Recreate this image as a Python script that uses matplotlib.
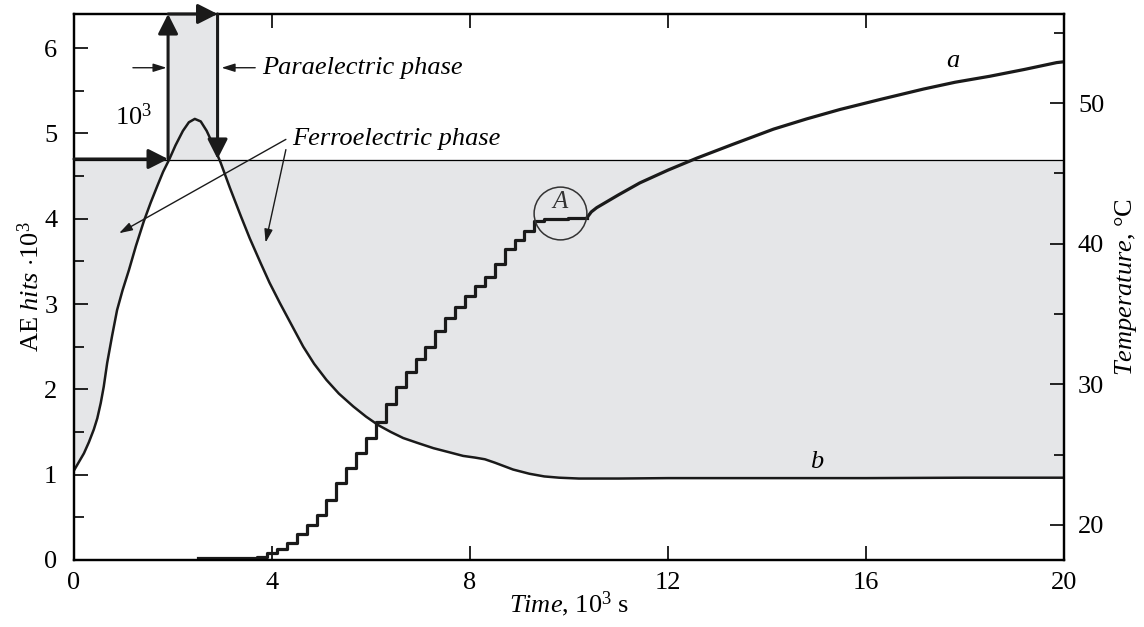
import matplotlib
matplotlib.use("Agg")
import matplotlib.pyplot as plt
from matplotlib.ticker import MultipleLocator

plt.rcParams['font.family'] = ['Liberation Serif', 'DejaVu Serif']
plt.rcParams['mathtext.fontset'] = 'custom'
plt.rcParams['mathtext.rm'] = 'Liberation Serif'
plt.rcParams['mathtext.it'] = 'Liberation Serif:italic'

# curve a: AE hits (10^3), staircase part and smooth part
a_step_t = [2.5, 3.6, 3.8, 4.0, 4.2, 4.4, 4.6, 4.8, 5.0, 5.2, 5.4, 5.6, 5.8, 6.0, 6.2,
            6.4, 6.6, 6.8, 7.0, 7.2, 7.4, 7.6, 7.8, 8.0, 8.2, 8.4, 8.6, 8.8, 9.0, 9.2,
            9.4, 9.6, 10.36]
a_step_v = [0.02, 0.02, 0.04, 0.08, 0.13, 0.20, 0.30, 0.41, 0.53, 0.70, 0.90, 1.08, 1.25,
            1.43, 1.62, 1.83, 2.03, 2.20, 2.35, 2.50, 2.68, 2.84, 2.97, 3.09, 3.21, 3.32,
            3.47, 3.64, 3.75, 3.86, 3.97, 4.00, 4.01]
a_line_t = [10.36, 10.45, 10.56, 11.0, 11.43, 12.0, 12.58, 13.3, 14.13, 14.8, 15.47,
            16.3, 17.16, 17.8, 18.5, 19.2, 19.85, 20.0]
a_line_v = [4.01, 4.08, 4.13, 4.28, 4.42, 4.57, 4.71, 4.87, 5.05, 5.17, 5.28, 5.40,
            5.52, 5.60, 5.67, 5.75, 5.83, 5.84]

# curve b: temperature, C
b_t = [0.0, 0.2, 0.3, 0.4, 0.47, 0.54, 0.6, 0.67, 0.77, 0.87, 0.98, 1.11, 1.25, 1.41,
       1.55, 1.68, 1.8, 1.92, 2.05, 2.2, 2.32, 2.44, 2.56, 2.68, 2.8, 2.96, 3.15, 3.37,
       3.55, 3.77, 3.95, 4.16, 4.4, 4.63, 4.85, 5.1, 5.35, 5.64, 5.9, 6.15, 6.4, 6.65,
       6.95, 7.26, 7.6, 7.86, 8.1, 8.3, 8.5, 8.87, 9.2, 9.5, 9.8, 10.2, 11.0, 12.0,
       14.0, 16.0, 18.0, 20.0]
b_T = [23.88, 25.09, 25.88, 26.79, 27.58, 28.67, 29.82, 31.52, 33.46, 35.28, 36.68,
       38.13, 39.83, 41.59, 42.93, 44.08, 45.11, 45.96, 46.99, 48.02, 48.63, 48.87,
       48.69, 48.02, 47.11, 45.78, 43.96, 41.96, 40.38, 38.62, 37.22, 35.77, 34.19,
       32.68, 31.46, 30.31, 29.34, 28.43, 27.70, 27.09, 26.61, 26.18, 25.82, 25.46,
       25.15, 24.91, 24.79, 24.67, 24.43, 23.94, 23.64, 23.45, 23.36, 23.30, 23.30,
       23.33, 23.33, 23.33, 23.36, 23.36]

T_c = 45.96          # phase transition temperature line
para_t = [1.9, 2.9]  # paraelectric strip
gray = '#e5e6e8'

fig = plt.figure(figsize=(11.44, 6.27), dpi=100)
ax = fig.add_axes([0.0647, 0.1069, 0.8654, 0.8708])
ax2 = ax.twinx()
ax.set_zorder(ax2.get_zorder() + 1)
ax.patch.set_visible(False)

ax.set_xlim(0, 20)
ax.set_ylim(0, 6.4)
ax2.set_ylim(17.51, 56.33)

# shaded ferroelectric region and paraelectric strip
ax2.fill_between(b_t, b_T, T_c, where=[v <= T_c + 0.05 for v in b_T],
                 interpolate=True, color=gray, lw=0)
ax2.fill_between(para_t, T_c, 56.33, color=gray, lw=0)
ax2.axhline(T_c, color='k', lw=0.9)

ax2.plot(b_t, b_T, color='#1a1a1a', lw=1.8)
ax.plot(a_step_t, a_step_v, color='#1a1a1a', lw=2.3, drawstyle='steps-mid')
ax.plot(a_line_t, a_line_v, color='#1a1a1a', lw=2.3)

# thick cycle arrows
thick = dict(arrowstyle='-|>,head_length=0.75,head_width=0.38', color='#1a1a1a',
             lw=2.2, shrinkA=0, shrinkB=0, mutation_scale=16)
y_c = 4.7
ax.annotate('', xy=(para_t[0], y_c), xytext=(0, y_c), arrowprops=thick, annotation_clip=False)
ax.annotate('', xy=(para_t[0], 6.4), xytext=(para_t[0], y_c), arrowprops=thick, annotation_clip=False)
ax.annotate('', xy=(para_t[1], 6.4), xytext=(para_t[0], 6.4), arrowprops=thick, annotation_clip=False)
ax.annotate('', xy=(para_t[1], y_c), xytext=(para_t[1], 6.4), arrowprops=thick, annotation_clip=False)

thin = dict(arrowstyle='-|>,head_length=0.8,head_width=0.25', color='#1a1a1a',
            lw=1.0, shrinkA=0, shrinkB=0, mutation_scale=10)
ax.annotate('', xy=(1.87, 5.77), xytext=(1.19, 5.77), arrowprops=thin)
ax.annotate('', xy=(2.98, 5.77), xytext=(3.66, 5.77), arrowprops=thin)
ax.annotate('', xy=(0.91, 3.83), xytext=(4.28, 4.93), arrowprops=thin)
ax.annotate('', xy=(3.87, 3.72), xytext=(4.28, 4.81), arrowprops=thin)

fs = 19
ax.text(3.8, 5.77, 'Paraelectric phase', style='italic', fontsize=fs, va='center', ha='left')
ax.text(4.41, 4.93, 'Ferroelectric phase', style='italic', fontsize=fs, va='center', ha='left')
ax.text(1.2, 5.2, '10$^3$', fontsize=fs, va='center', ha='center')
ax.text(17.75, 5.85, 'a', style='italic', fontsize=fs, va='center', ha='center')
ax.text(15.0, 1.15, 'b', style='italic', fontsize=fs, va='center', ha='center')
ax.plot([9.82], [4.07], 'o', ms=38, mfc='none', mec='#333333', mew=1.1)
ax.text(9.82, 4.2, 'A', style='italic', fontsize=fs - 1, va='center', ha='center', color='#333333')

ax.set_xticks([0, 4, 8, 12, 16, 20])
ax.yaxis.set_major_locator(MultipleLocator(1))
ax.yaxis.set_minor_locator(MultipleLocator(0.5))
ax2.set_yticks([20, 30, 40, 50])
ax2.yaxis.set_minor_locator(MultipleLocator(5))
ax.tick_params(axis='both', which='both', direction='in', labelsize=fs, top=True,
               length=10, width=1.2)
ax.tick_params(axis='y', which='major', pad=12)
ax.tick_params(axis='x', which='major', pad=9)
ax.tick_params(axis='y', which='minor', length=7)
ax2.tick_params(axis='y', which='both', direction='in', labelsize=fs, length=10,
                width=1.2, pad=10)
ax2.tick_params(axis='y', which='minor', length=7)
for a in (ax, ax2):
    for s in a.spines.values():
        s.set_linewidth(1.6)

ax.set_xlabel('$\\mathit{Time}$, 10$^3$ s', fontsize=fs, labelpad=-4)
ax.set_ylabel('AE $\\mathit{hits}$ $\\cdot$10$^3$', fontsize=fs)
ax.yaxis.set_label_coords(-0.03, 0.5)
ax2.set_ylabel('$\\mathit{Temperature}$, °C', fontsize=fs, labelpad=6)

fig.savefig('out.png', dpi=100)
